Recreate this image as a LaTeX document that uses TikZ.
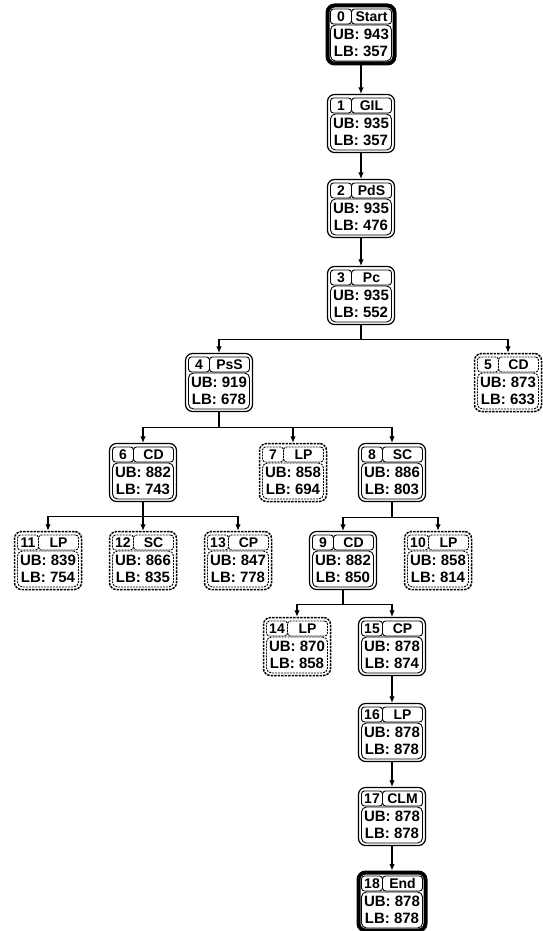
\documentclass[tikz,border=0pt]{standalone}
\usepackage{fontspec}
\setmainfont{Liberation Sans}
\usetikzlibrary{positioning,arrows.meta}

% one search node: outer frame, step number, method, bounds
\newcommand{\bbnode}[8]{%
  \node[#3] (#1) at (#2) {};
  \node[cell, #4, minimum width=21pt] (#1num) at ([shift={(-20,18)}]#1.center) {#5};
  \node[cell, #4, minimum width=40pt] (#1meth) at ([shift={(10.5,18)}]#1.center) {#6};
  \node[bound, #4] (#1bnd) at ([shift={(0,-8.5)}]#1.center) {UB: #7\\LB: #8};
}

\begin{document}
\begin{tikzpicture}[
    x=1pt, y=1pt,
    frame/.style={draw, fill=white, line width=1.2pt, rounded corners=7pt, minimum width=67pt, minimum height=58pt, inner sep=0pt},
    terminal/.style={frame, line width=4pt},
    pruned/.style={frame, line width=1.5pt, dash pattern=on 2.4pt off 1.1pt},
    solidin/.style={solid},
    dashin/.style={dash pattern=on 2pt off 1pt},
    cell/.style={draw, line width=0.9pt, rounded corners=3pt, inner sep=0pt, minimum height=15pt, font=\fontsize{14}{14}\selectfont\bfseries},
    bound/.style={draw, line width=0.9pt, rounded corners=5pt, inner sep=0pt, minimum width=61pt, minimum height=36pt, align=center, font=\fontsize{15}{17.5}\selectfont\bfseries},
    arr/.style={-{Latex[length=6.5pt,width=5.5pt]}, line width=1.1pt}
]
    \useasboundingbox (0,0) rectangle (542,-931);

    % Main chain
    \bbnode{n0}{361,-34.5}{terminal}{solidin}{0}{Start}{943}{357}
    \bbnode{n1}{361,-123.5}{frame}{solidin}{1}{GIL}{935}{357}
    \bbnode{n2}{361,-208.5}{frame}{solidin}{2}{PdS}{935}{476}
    \bbnode{n3}{361,-295.5}{frame}{solidin}{3}{Pc}{935}{552}

    % Level 4 and 5
    \bbnode{n4}{219,-382.5}{frame}{solidin}{4}{PsS}{919}{678}
    \bbnode{n5}{508,-382.5}{pruned}{dashin}{5}{CD}{873}{633}
    \bbnode{n6}{143,-472.5}{frame}{solidin}{6}{CD}{882}{743}
    \bbnode{n7}{293,-472.5}{pruned}{dashin}{7}{LP}{858}{694}
    \bbnode{n8}{392,-472.5}{frame}{solidin}{8}{SC}{886}{803}

    % Level 6
    \bbnode{n11}{48,-560.5}{pruned}{dashin}{11}{LP}{839}{754}
    \bbnode{n12}{143,-560.5}{pruned}{dashin}{12}{SC}{866}{835}
    \bbnode{n13}{238,-560.5}{pruned}{dashin}{13}{CP}{847}{778}
    \bbnode{n9}{343,-560.5}{frame}{solidin}{9}{CD}{882}{850}
    \bbnode{n10}{438,-560.5}{pruned}{dashin}{10}{LP}{858}{814}

    % Lower chain
    \bbnode{n14}{297,-646.5}{pruned}{dashin}{14}{LP}{870}{858}
    \bbnode{n15}{392,-646.5}{frame}{solidin}{15}{CP}{878}{874}
    \bbnode{n16}{392,-732.5}{frame}{solidin}{16}{LP}{878}{878}
    \bbnode{n17}{392,-816.5}{frame}{solidin}{17}{CLM}{878}{878}
    \bbnode{n18}{392,-901.5}{terminal}{solidin}{18}{End}{878}{878}

    % Branch points
    \coordinate (j3) at ([yshift=-14]n3.south);
    \coordinate (j4) at ([yshift=-15]n4.south);
    \coordinate (j6) at ([yshift=-14]n6.south);
    \coordinate (j8) at ([yshift=-15]n8.south);
    \coordinate (j9) at ([yshift=-14]n9.south);

    % Connections
    \draw[arr] (n0) -- (n1); \draw[arr] (n1) -- (n2); \draw[arr] (n2) -- (n3);
    \draw[arr] (n3.south) -- (j3) -| (n4.north);
    \draw[arr] (j3) -| (n5.north);
    \draw[arr] (n4.south) -- (j4) -| (n6.north);
    \draw[arr] (j4) -| (n7.north);
    \draw[arr] (j4) -| (n8.north);
    \draw[arr] (n6.south) -- (j6) -| (n11.north);
    \draw[arr] (j6) -- (n12.north);
    \draw[arr] (j6) -| (n13.north);
    \draw[arr] (n8.south) -- (j8) -| (n9.north);
    \draw[arr] (j8) -| (n10.north);
    \draw[arr] (n9.south) -- (j9) -| (n14.north);
    \draw[arr] (j9) -| (n15.north);
    \draw[arr] (n15) -- (n16); \draw[arr] (n16) -- (n17); \draw[arr] (n17) -- (n18);
\end{tikzpicture}
\end{document}
